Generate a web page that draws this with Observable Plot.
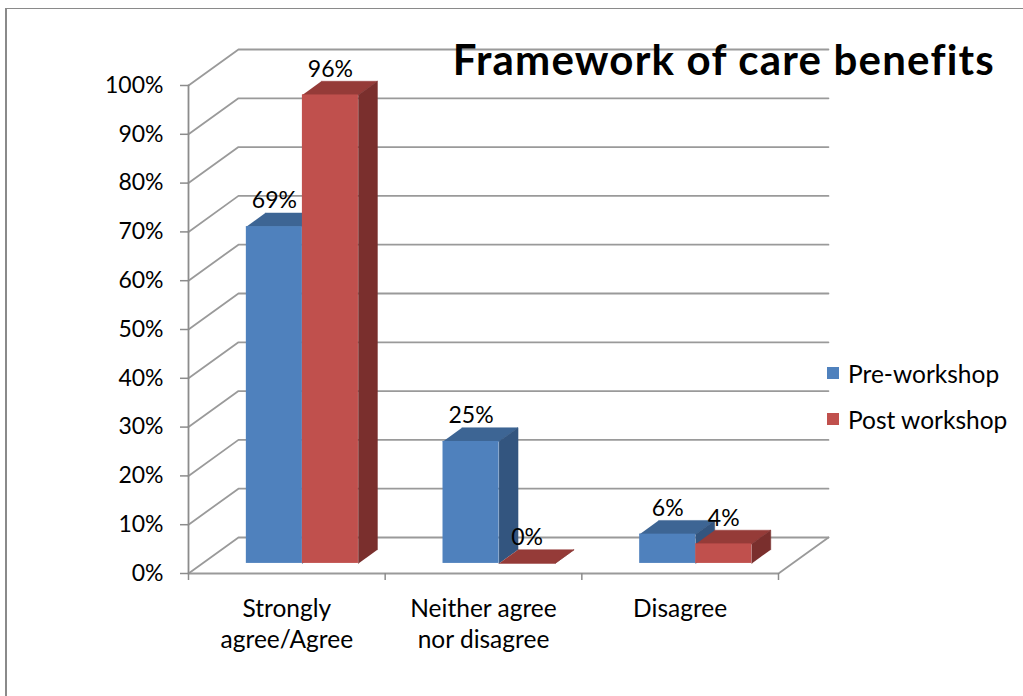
<!DOCTYPE html>
<html><head><meta charset="utf-8">
<script src="https://cdn.jsdelivr.net/npm/d3@7"></script>
<script src="https://cdn.jsdelivr.net/npm/@observablehq/plot@0.6"></script>
<style>
html,body{margin:0;padding:0;background:#fff;overflow:hidden;}
body{width:1023px;height:696px;position:relative;font-family:Lato,"Open Sans",sans-serif;}
#frame{position:absolute;left:5px;top:8px;width:1100px;height:800px;border-left:2px solid #8a8a8a;border-top:1px solid #8a8a8a;}
#chart{position:absolute;left:0;top:0;}
#title{position:absolute;right:28px;top:34px;font-weight:bold;font-size:42px;line-height:1.2;letter-spacing:1.2px;color:#000;white-space:nowrap;}
#legend{position:absolute;left:827px;top:357px;font-size:24.5px;color:#000;}
.item{display:flex;align-items:center;height:32px;margin-bottom:14px;}
.sw{width:12px;height:12px;margin-right:9px;}
</style></head><body>
<div id="frame"></div>
<div id="chart"></div>
<div id="title"></div>
<div id="legend"></div>
<script>
// ---- data ----
const title = "Framework of care benefits";
const categories = ["Strongly\nagree/Agree", "Neither agree\nnor disagree", "Disagree"];
const series = ["Pre-workshop", "Post workshop"];
const preWorkshop = [0.69, 0.25, 0.06];
const postWorkshop = [0.96, 0.00, 0.04];
const yTicks = [0, 0.1, 0.2, 0.3, 0.4, 0.5, 0.6, 0.7, 0.8, 0.9, 1.0];
const frontColors = ["#4F81BD", "#C0504D"];
const topColors = ["#3D6594", "#953B38"];
const sideColors = ["#33557F", "#7A2F2D"];

// ---- oblique 3D projection in data units ----
const KX = 0.254, KY = 0.0738;     // full depth of the floor
const D0 = 0.28, D1 = 0.66;        // bar front / back depth
const BW = 0.285, SHIFT = 0.008;   // bar width (category units)
const P = (x, y, d) => ({x: x + d * KX, y: y + d * KY});

const nCat = categories.length;
const values = [preWorkshop, postWorkshop];

// wall gridlines: left wall diagonal + back wall line
const grid = yTicks.flatMap(t => [P(0, t, 0), P(0, t, 1), P(nCat, t, 1)].map(p => ({...p, t})));
// floor front edge + right edge, and vertical axis
const floor = [P(0, 0, 0), P(nCat, 0, 0), P(nCat, 0, 1)];
const vaxis = [P(0, 0, 0), P(0, 1, 0)];

// bar faces
const faces = [];
const rects = [];
const labels = [];
categories.forEach((c, i) => {
  series.forEach((s, j) => {
    const v = values[j][i];
    const x0 = i + 0.5 - BW + j * BW + SHIFT, x1 = x0 + BW;
    const id = `${i}-${j}`;
    [P(x0, v, D0), P(x1, v, D0), P(x1, v, D1), P(x0, v, D1)].forEach(p => faces.push({...p, z: id + "t"}));
    [P(x1, 0, D0), P(x1, v, D0), P(x1, v, D1), P(x1, 0, D1)].forEach(p => faces.push({...p, z: id + "s"}));
    const a = P(x0, 0, D0), b = P(x1, v, D0);
    rects.push({x1: a.x, x2: b.x, y1: a.y, y2: b.y, z: id});
    const lp = P((x0 + x1) / 2, v, D0), lb = P(x0, v, D1);
    labels.push({x: lp.x, y: lb.y, text: d3.format(".0%")(v)});
  });
});

// draw each bar's faces in painter's order
const barMarks = [];
categories.forEach((c, i) => series.forEach((s, j) => {
  const id = `${i}-${j}`;
  barMarks.push(Plot.line(faces.filter(f => f.z === id + "t"), {x: "x", y: "y", fill: topColors[j], stroke: topColors[j], strokeWidth: 0.5}));
  barMarks.push(Plot.line(faces.filter(f => f.z === id + "s"), {x: "x", y: "y", fill: sideColors[j], stroke: sideColors[j], strokeWidth: 0.5}));
  barMarks.push(Plot.rectY(rects.filter(r => r.z === id), {x1: "x1", x2: "x2", y1: "y1", y2: "y2", fill: frontColors[j], inset: 0}));
}));

const catLabels = categories.map((c, i) => ({x: i + 0.5, y: 0, text: c}));

const chart = Plot.plot({
  width: 1023, height: 696,
  marginLeft: 188, marginRight: 245, marginTop: 85, marginBottom: 123,
  style: {fontFamily: "Lato, 'Open Sans', sans-serif", fontSize: "23px", color: "#000", background: "transparent", overflow: "visible"},
  x: {domain: [0, nCat], axis: null},
  y: {domain: [0, 1], axis: null},
  marks: [
    Plot.line(grid, {x: "x", y: "y", z: "t", stroke: "#9a9a9a", strokeWidth: 1.8}),
    Plot.line(floor, {x: "x", y: "y", stroke: "#9a9a9a", strokeWidth: 1.8}),
    Plot.line(vaxis, {x: "x", y: "y", stroke: "#8c8c8c", strokeWidth: 1.8}),
    Plot.axisY({ticks: yTicks, tickFormat: d3.format(".0%"), tickSize: 8, tickPadding: 17, stroke: "#8c8c8c", strokeWidth: 1.5, fill: "#000", fontSize: 23}),
    Plot.axisX({ticks: d3.range(nCat + 1), tickSize: 7, tickFormat: () => "", stroke: "#8c8c8c", strokeWidth: 1.5}),
    ...barMarks,
    Plot.text(labels, {x: "x", y: "y", text: "text", dy: -12, lineAnchor: "middle", fill: "#000", fontSize: 23}),
    Plot.text(catLabels, {x: "x", y: "y", text: "text", dy: 21, lineAnchor: "top", lineHeight: 1.27, fill: "#000", fontSize: 24.5})
  ]
});
document.getElementById("chart").append(chart);
document.getElementById("title").textContent = title;
const lg = document.getElementById("legend");
series.forEach((s, j) => {
  const it = document.createElement("div"); it.className = "item";
  const sw = document.createElement("div"); sw.className = "sw"; sw.style.background = frontColors[j];
  const tx = document.createElement("span"); tx.textContent = s;
  it.append(sw, tx); lg.append(it);
});
</script>
</body></html>
